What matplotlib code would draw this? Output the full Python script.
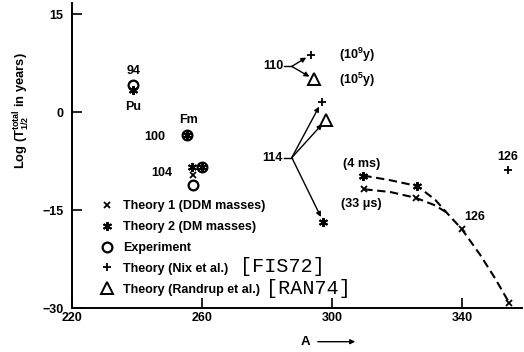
import matplotlib
matplotlib.use("Agg")
import matplotlib.pyplot as plt
from matplotlib.lines import Line2D

plt.rcParams['font.family'] = ['Liberation Sans', 'DejaVu Sans']
plt.rcParams['font.weight'] = 'bold'
plt.rcParams['mathtext.fontset'] = 'custom'
plt.rcParams['mathtext.rm'] = 'Liberation Sans:bold'
plt.rcParams['mathtext.bf'] = 'Liberation Sans:bold'
plt.rcParams['mathtext.it'] = 'Liberation Sans:bold'
plt.rcParams['mathtext.default'] = 'bf'

# ---- data: mass number A vs log10 of total half-life (years) ----
theory1_A = [257.4, 310.0, 325.8, 340.0, 354.6]
theory1_logT = [-9.6, -11.8, -13.1, -17.9, -29.2]

theory2_A = [238.9, 255.5, 257.0, 260.1, 297.4, 309.7, 326.3]
theory2_logT = [3.4, -3.5, -8.4, -8.4, -16.8, -9.7, -11.3]

exp_A = [238.9, 255.5, 260.1, 257.4]
exp_logT = [4.2, -3.5, -8.4, -11.1]

nix_A = [293.6, 296.9, 354.3]
nix_logT = [8.8, 1.6, -8.9]

randrup_A = [294.6, 298.2]
randrup_logT = [5.0, -1.2]

# dashed trend curves through the superheavy predictions
curve2_A = [309.7, 317.9, 326.3, 331.8, 335.2, 340.0, 345.6, 350.2, 354.6]
curve2_logT = [-9.7, -10.4, -11.3, -13.4, -15.3, -17.9, -21.8, -25.4, -29.2]
curve1_A = [310.0, 317.9, 325.8, 331.5, 335.2]
curve1_logT = [-11.8, -12.2, -13.1, -14.2, -15.3]

x_ticks = [220, 260, 300, 340]
y_ticks = [15, 0, -15, -30]

legend_labels = ["Theory 1 (DDM masses)", "Theory 2 (DM masses)", "Experiment",
                 "Theory (Nix et al.)", "Theory (Randrup et al.)"]

W, H = 524, 352
fig = plt.figure(figsize=(W / 100, H / 100), dpi=100)
ax = fig.add_axes([71.7 / W, (H - 308.3) / H, 450.3 / W, 305.3 / H])
ax.set_xlim(220, 358.5)
ax.set_ylim(-30, 16.7)

for s in ['top', 'right']:
    ax.spines[s].set_visible(False)
for s in ['left', 'bottom']:
    ax.spines[s].set_linewidth(1.4)

ax.set_xticks(x_ticks)
ax.set_yticks(y_ticks)
ax.tick_params(direction='in', length=7, width=1.2, labelsize=9)
ax.tick_params(axis='y', pad=6)
ax.tick_params(axis='x', pad=3)
for lab in ax.get_xticklabels() + ax.get_yticklabels():
    lab.set_fontweight('bold')

dash = (0, (4, 2.2))
ax.plot(curve2_A, curve2_logT, color='k', lw=1.5, ls=dash, zorder=2)
ax.plot(curve1_A, curve1_logT, color='k', lw=1.5, ls=dash, zorder=2)

star = (6, 2, 0)
ax.plot(exp_A, exp_logT, ls='none', marker='o', ms=7, mfc='none', mec='k', mew=1.6, zorder=3)
ax.plot(theory1_A, theory1_logT, ls='none', marker='x', ms=5, mec='k', mew=1.3, zorder=4)
ax.plot(theory2_A, theory2_logT, ls='none', marker=star, ms=6.5, mec='k', mew=1.4, zorder=4)
ax.plot(nix_A, nix_logT, ls='none', marker='+', ms=6, mec='k', mew=1.3, zorder=4)
ax.plot(randrup_A, randrup_logT, ls='none', marker='^', ms=8, mfc='none', mec='k', mew=1.4, zorder=4)

# arrows from the proton-number labels to the predictions
arrow = dict(arrowstyle='-|>', lw=1.0, color='k', shrinkA=0, shrinkB=4, mutation_scale=7)
j110 = (287.7, 7.0)
j114 = (287.7, -6.95)
ax.plot([285.3, j110[0]], [j110[1], j110[1]], color='k', lw=1.0)
ax.plot([285.3, j114[0]], [j114[1], j114[1]], color='k', lw=1.0)
ax.annotate('', xy=(nix_A[0], nix_logT[0]), xytext=j110, arrowprops=arrow)
ax.annotate('', xy=(randrup_A[0], randrup_logT[0]), xytext=j110, arrowprops=arrow)
ax.annotate('', xy=(nix_A[1], nix_logT[1]), xytext=j114, arrowprops=arrow)
ax.annotate('', xy=(randrup_A[1], randrup_logT[1]), xytext=j114, arrowprops=arrow)
ax.annotate('', xy=(theory2_A[4], theory2_logT[4]), xytext=j114, arrowprops=arrow)

fs = 9
tk = dict(fontsize=fs, fontweight='bold', ha='center', va='center')
ax.text(238.9, 6.3, "94", **tk)
ax.text(238.9, 0.8, "Pu", **tk)
ax.text(255.8, -1.2, "Fm", **tk)
ax.text(245.6, -3.8, "100", **tk)
ax.text(247.8, -9.3, "104", **tk)
ax.text(285.0, 7.0, "110", fontsize=fs, fontweight='bold', ha='right', va='center')
ax.text(285.0, -6.95, "114", fontsize=fs, fontweight='bold', ha='right', va='center')
ax.text(302.3, 8.8, r"(10$^{9}$y)", fontsize=fs, fontweight='bold', ha='left', va='center')
ax.text(302.3, 5.0, r"(10$^{5}$y)", fontsize=fs, fontweight='bold', ha='left', va='center')
ax.text(309.2, -7.9, "(4 ms)", **tk)
ax.text(309.2, -14.1, "(33 μs)", **tk)
ax.text(354.2, -6.8, "126", **tk)
ax.text(344.1, -16.0, "126", **tk)

# axis labels
fig.text(22 / W, 1 - 111 / H, r"Log (T$^{total}_{1/2}$ in years)", rotation=90,
         fontsize=9.3, fontweight='bold', ha='center', va='center')
fig.text(305 / W, 1 - 341.7 / H, "A", fontsize=9.5, fontweight='bold', ha='center', va='center')
fig.add_artist(matplotlib.patches.FancyArrowPatch(
    (315 / W, 1 - 341.7 / H), (358 / W, 1 - 341.7 / H), transform=fig.transFigure,
    arrowstyle='-|>', mutation_scale=7, lw=1.0, color='k'))

# legend
handles = [
    Line2D([], [], ls='none', marker='x', ms=5, mec='k', mew=1.3),
    Line2D([], [], ls='none', marker=star, ms=6.5, mec='k', mew=1.4),
    Line2D([], [], ls='none', marker='o', ms=7, mfc='none', mec='k', mew=1.6),
    Line2D([], [], ls='none', marker='+', ms=6, mec='k', mew=1.3),
    Line2D([], [], ls='none', marker='^', ms=8, mfc='none', mec='k', mew=1.4),
]
leg = ax.legend(handles, legend_labels, loc='upper left',
                bbox_to_anchor=(100.5 / W, 1 - 200.5 / H), bbox_transform=fig.transFigure,
                frameon=False, borderpad=0, borderaxespad=0, handlelength=1.0,
                handletextpad=0.78, labelspacing=0.7,
                prop={'family': 'Liberation Sans', 'weight': 'bold', 'size': 9})

fig.text(240 / W, 1 - 266 / H, "[FIS72]", family='Liberation Mono', fontweight='normal',
         fontsize=14.5, ha='left', va='center')
fig.text(266 / W, 1 - 288 / H, "[RAN74]", family='Liberation Mono', fontweight='normal',
         fontsize=14.5, ha='left', va='center')

fig.savefig("out.png", dpi=100)
